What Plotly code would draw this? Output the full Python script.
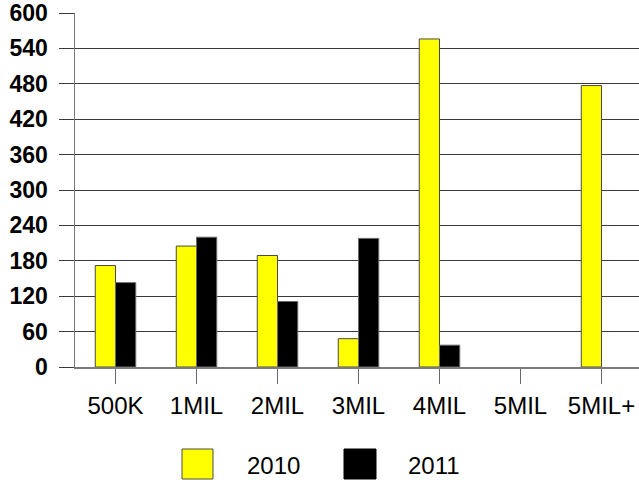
import plotly.graph_objects as go

categories = ["500K", "1MIL", "2MIL", "3MIL", "4MIL", "5MIL", "5MIL+"]
series_names = ["2010", "2011"]
values_2010 = [172, 205, 189, 48, 556, None, 477]
values_2011 = [143, 220, 111, 218, 37, None, None]
y_ticks = [0, 60, 120, 180, 240, 300, 360, 420, 480, 540, 600]

W, H = 639, 480
L, R, T, B = 75, 0, 13, 113
pw, ph = W - L - R, H - T - B

def px_x(px):
    return (px - L) / pw

def px_y(py):
    return (H - B - py) / ph

fig = go.Figure()
fig.add_trace(go.Bar(x=categories, y=values_2010, name=series_names[0],
                     marker=dict(color="#FFFF00", line=dict(color="#4a4a4a", width=1))))
fig.add_trace(go.Bar(x=categories, y=values_2011, name=series_names[1],
                     marker=dict(color="#000000", line=dict(color="#6a6a6a", width=1))))

font_family = "Liberation Sans, Arial, sans-serif"

fig.update_layout(
    width=W, height=H,
    margin=dict(l=L, r=R, t=T, b=B, autoexpand=False),
    paper_bgcolor="white", plot_bgcolor="white",
    barmode="group", bargap=0.5, bargroupgap=0,
    showlegend=False,
    font=dict(family=font_family, color="black"),
)
fig.update_xaxes(
    type="category", range=[-0.5, -0.5 + pw / 81.0],
    showgrid=False, showline=True, linecolor="#7a7a7a", linewidth=1.5,
    ticks="outside", ticklen=15, tickcolor="#6a6a6a", tickwidth=1.5,
    tickfont=dict(size=24, family=font_family, color="black"),
    ticklabelstandoff=2,
)
fig.update_yaxes(
    range=[0, 600], tickvals=y_ticks, ticktext=[str(v) for v in y_ticks],
    showgrid=True, gridcolor="#3a3a3a", gridwidth=1,
    showline=True, linecolor="#7a7a7a", linewidth=1.5,
    ticks="outside", ticklen=15, tickcolor="#3a3a3a", tickwidth=1,
    tickfont=dict(size=23, family=font_family, color="black", weight="bold"),
    ticklabelstandoff=6,
    zeroline=False,
)

# legend drawn manually (large square swatches)
legend_items = [
    (182, 213, 245, "#FFFF00", "#4a4a4a", series_names[0]),
    (344, 376, 406, "#000000", "#000000", series_names[1]),
]
for x0, x1, tx, fill, edge, label in legend_items:
    fig.add_shape(type="rect", xref="paper", yref="paper",
                  x0=px_x(x0), x1=px_x(x1), y0=px_y(479), y1=px_y(449),
                  fillcolor=fill, line=dict(color=edge, width=1))
    fig.add_annotation(xref="paper", yref="paper", x=px_x(tx), y=px_y(465),
                       xanchor="left", yanchor="middle", showarrow=False,
                       text=label, font=dict(size=24, family=font_family, color="black"))

fig.write_html("out.html",
               config={"displayModeBar": False, "staticPlot": True},
               post_script="document.body.style.margin='0';document.body.style.overflow='hidden';")
